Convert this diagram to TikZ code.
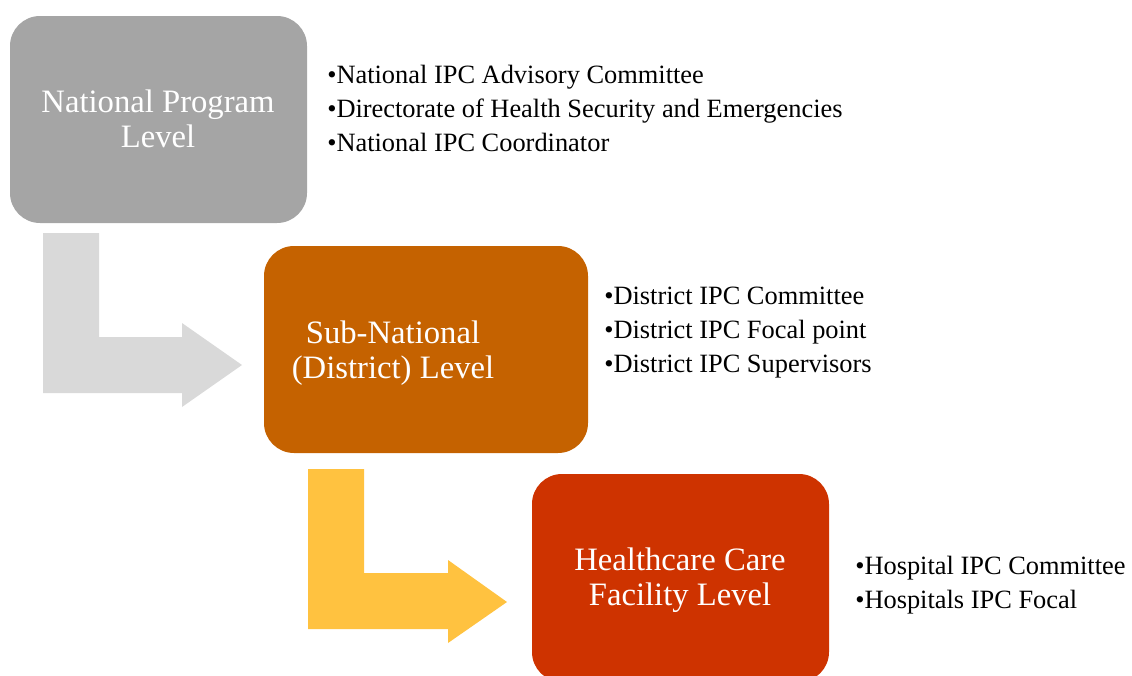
\documentclass[tikz,border=0pt]{standalone}
\usepackage{fontspec}
\setmainfont{Liberation Serif}
\definecolor{boxgray}{RGB}{165,165,165}
\definecolor{boxorange}{RGB}{197,98,0}
\definecolor{boxred}{RGB}{206,51,0}
\definecolor{arrgray}{RGB}{217,217,217}
\definecolor{arryellow}{RGB}{255,194,64}
\tikzset{
  levelbox/.style={draw=none, text=white, align=center,
    font=\fontsize{24.5}{26.25}\selectfont},
  itemlist/.style={anchor=west, align=left, inner sep=0pt, text=black,
    font=\fontsize{19.8}{25.5}\selectfont}
}
\begin{document}
\begin{tikzpicture}[x=0.75pt,y=-0.75pt]
\useasboundingbox (0,0) rectangle (1132,675);
% boxes
\path[fill=boxgray, rounded corners=22.5pt] (10,16) rectangle (307,223);
\node[levelbox] (nat) at (158,119) {National Program\\Level};
\path[fill=boxorange, rounded corners=22.5pt] (264,246) rectangle (588,453);
\node[levelbox] (sub) at (393,353) {Sub-National\\(District) Level};
\path[fill=boxred, rounded corners=22.5pt] (532,474) rectangle (829,682);
\node[levelbox] (fac) at (680,580) {Healthcare Care\\Facility Level};
% bent arrows
\fill[arrgray] (43,233) -- (99,233) -- (99,337) -- (182,337) -- (182,323) -- (242,365)
  -- (182,407) -- (182,393) -- (43,393) -- cycle;
\fill[arryellow] (308,469) -- (364,469) -- (364,573) -- (448,573) -- (448,560) -- (507,602)
  -- (448,643) -- (448,629) -- (308,629) -- cycle;
% lists
\node[itemlist] (l1) at (327,108) {\textbullet National IPC Advisory Committee\\
\textbullet Directorate of Health Security and Emergencies\\
\textbullet National IPC Coordinator};
\node[itemlist] (l2) at (604,333) {\textbullet District IPC Committee\\
\textbullet District IPC Focal point\\
\textbullet District IPC Supervisors};
\node[itemlist] (l3) at (855,585) {\textbullet Hospital IPC Committee\\
\textbullet Hospitals IPC Focal};
\end{tikzpicture}
\end{document}
